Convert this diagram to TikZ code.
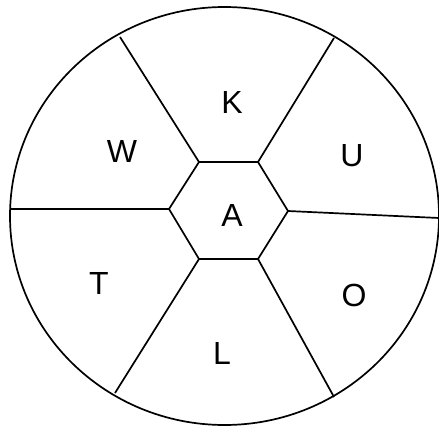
\documentclass[tikz,border=0pt]{standalone}
\usepackage{fontspec}
\setmainfont{Liberation Sans}
\begin{document}
\begin{tikzpicture}[x=1pt,y=-1pt,
  edge/.style={line width=1.7pt,black},
  lab/.style={font=\fontsize{32}{32}\selectfont,text=black,inner sep=0pt}]
\useasboundingbox (0,0) rectangle (439,428);
\fill[white] (0,0) rectangle (439,428);
% outer circle
\draw[edge] (224.5,216) ellipse [x radius=214.5, y radius=209];
% hexagon vertices
\coordinate (h1) at (199,162);
\coordinate (h2) at (258,162);
\coordinate (h3) at (288,211);
\coordinate (h4) at (258,259);
\coordinate (h5) at (199,259);
\coordinate (h6) at (169,209);
% outer ends
\coordinate (o1) at (120,37);
\coordinate (o2) at (334,38);
\coordinate (o3) at (439,218);
\coordinate (o4) at (334,397);
\coordinate (o5) at (115,393);
\coordinate (o6) at (10,209);
\draw[edge,line join=round] (h1) -- (h2) -- (h3) -- (h4) -- (h5) -- (h6) -- cycle;
\foreach \i in {1,...,6} {\draw[edge] (h\i) -- (o\i);}
% labels
\node[lab] (K) at (232,102) {K};
\node[lab] (W) at (122,151) {W};
\node[lab] (U) at (352,156) {U};
\node[lab] (A) at (232,215) {A};
\node[lab] (T) at (99,283) {T};
\node[lab] (O) at (354,295) {O};
\node[lab] (L) at (222,353) {L};
\end{tikzpicture}
\end{document}
